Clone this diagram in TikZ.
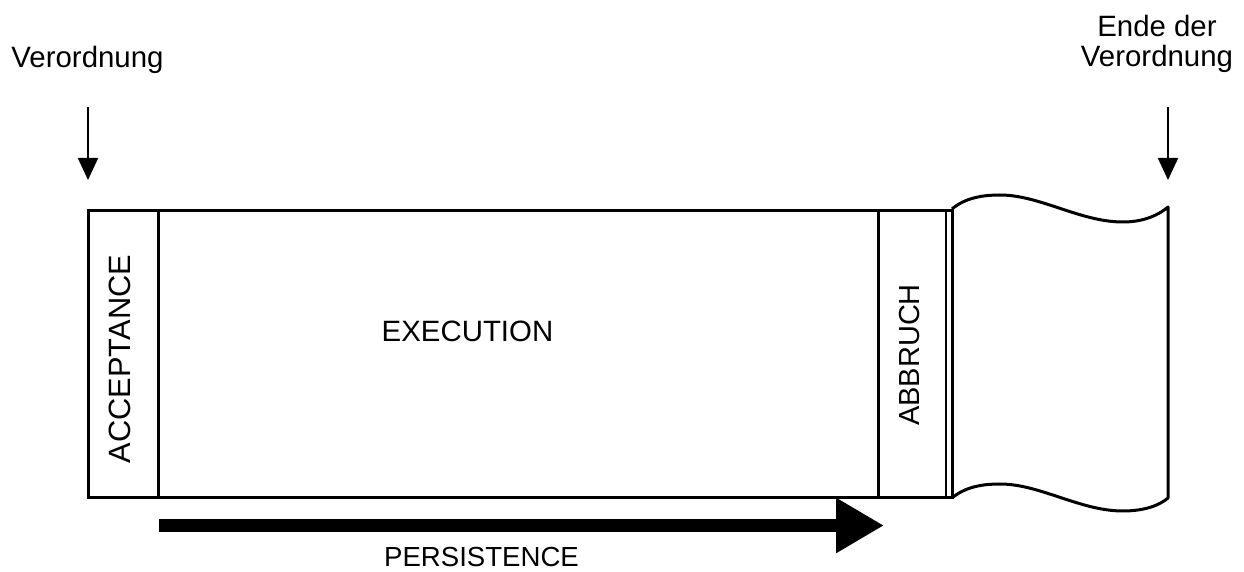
\documentclass[tikz,border=0pt]{standalone}
\usepackage{fontspec}
\setmainfont{Liberation Sans}
\usetikzlibrary{arrows.meta}
\tikzset{
  lbl/.style={font=\fontsize{14.7pt}{15pt}\selectfont, inner sep=0pt, align=center},
  frame/.style={line width=1.5pt},
  marker/.style={line width=1pt, -{Triangle[width=10pt,length=11pt]}},
  flow/.style={line width=6.5pt, -{Triangle[width=26pt,length=24pt]}},
}
\begin{document}
\begin{tikzpicture}[x=0.5pt,y=-0.5pt]
\useasboundingbox (0,0) rectangle (1244,572);

% phase boxes
\draw[frame] (88,211) rectangle (952,498);
\draw[frame] (158,211) -- (158,498);
\draw[frame] (878,211) -- (878,498);
\draw[line width=1.2pt] (946,211) -- (946,498);

% open-ended remainder of the order period
\draw[frame, line join=round]
  (952,209) .. controls (965,198) and (982,195) .. (1000,195)
            .. controls (1040,195) and (1080,222) .. (1123,222)
            .. controls (1145,222) and (1160,214) .. (1168,207)
  -- (1168,498)
            .. controls (1160,505) and (1145,511) .. (1123,511)
            .. controls (1080,511) and (1040,484) .. (1000,484)
            .. controls (982,484) and (965,487) .. (952,498);

% phase labels
\node[lbl, rotate=90, font=\fontsize{15.4pt}{16pt}\selectfont] (acc) at (120,359) {ACCEPTANCE};
\node[lbl, anchor=base] (exe) at (467.5,342) {EXECUTION};
\node[lbl, rotate=90, font=\fontsize{14.5pt}{15pt}\selectfont] (abb) at (910,355) {ABBRUCH};

% start and end of the order
\node[lbl, anchor=base] (start) at (87.5,68) {Verordnung};
\node[lbl, anchor=base] (end) at (1157,67) {Ende der\\Verordnung};
\coordinate (startTop) at (88,107);
\coordinate (startTip) at (88,180);
\coordinate (endTop) at (1168,107);
\coordinate (endTip) at (1168,180);
\draw[marker] (startTop) -- (startTip);
\draw[marker] (endTop) -- (endTip);

% persistence arrow
\coordinate (pA) at (159,525.5);
\coordinate (pB) at (884,525.5);
\draw[flow] (pA) -- (pB);
\node[lbl, anchor=base, font=\fontsize{13.8pt}{15pt}\selectfont] (pers) at (481.5,567) {PERSISTENCE};
\end{tikzpicture}
\end{document}
